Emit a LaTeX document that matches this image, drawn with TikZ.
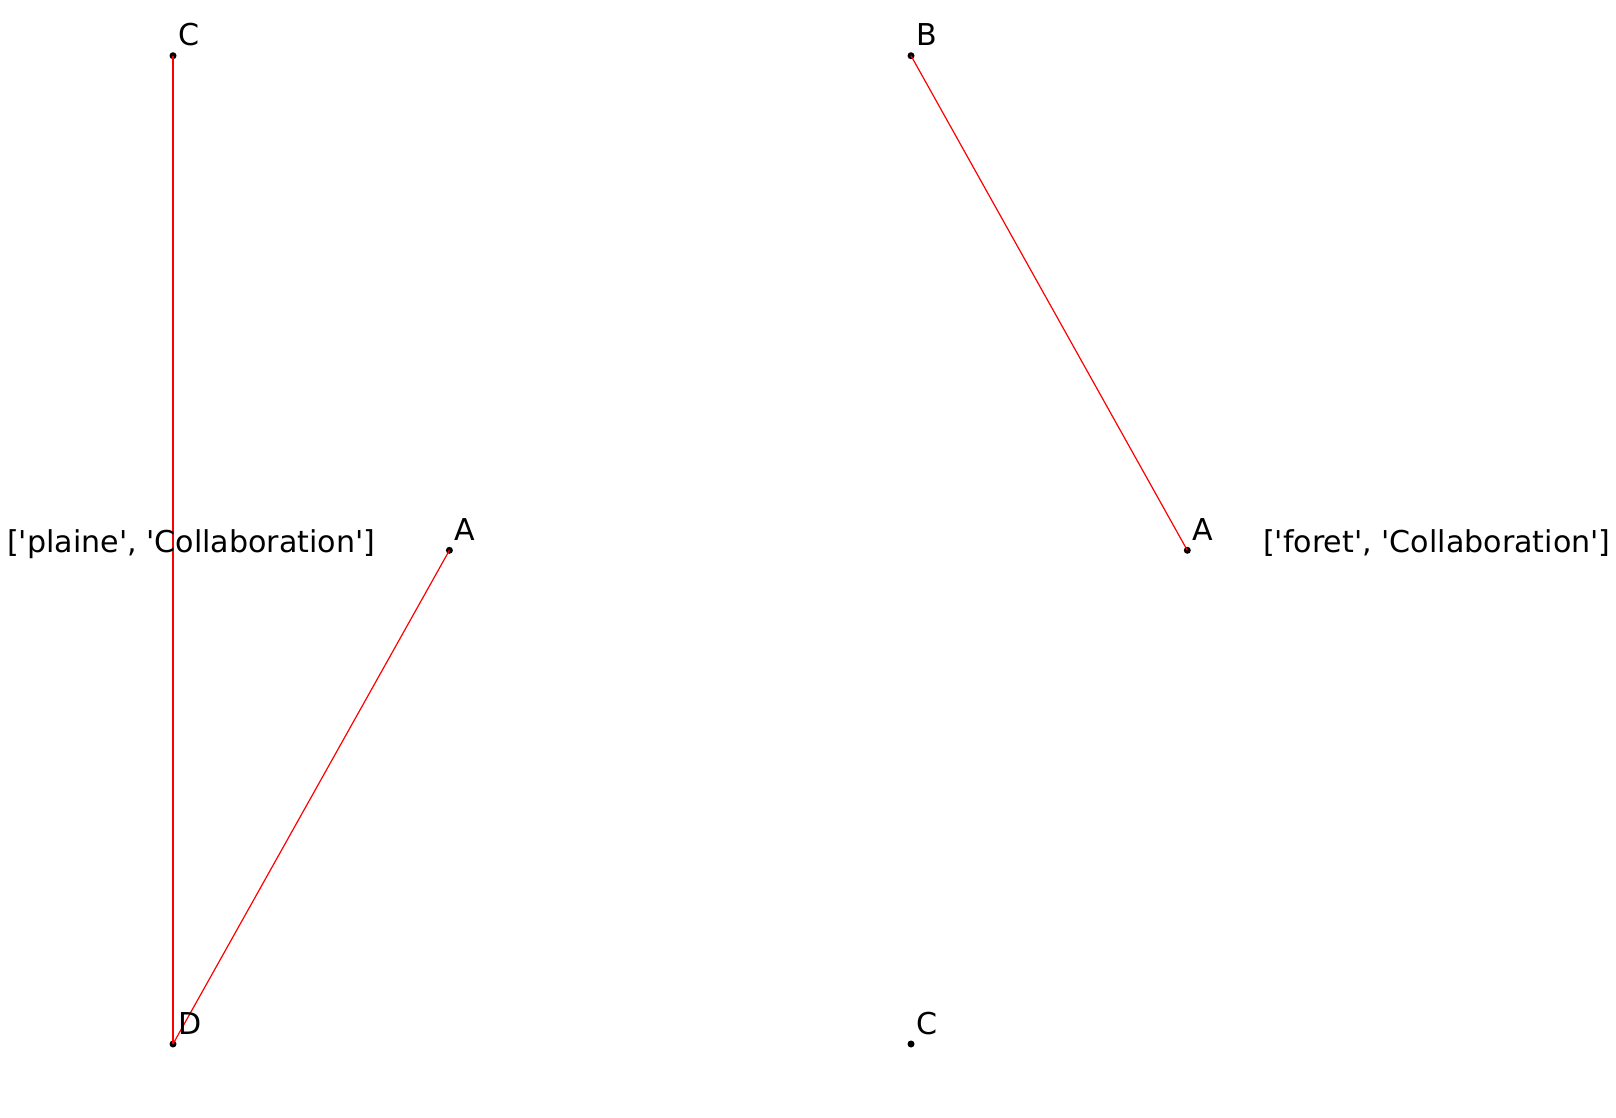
\documentclass[tikz,border=0pt]{standalone}
\usepackage{fontspec}
\setmainfont{DejaVu Sans}
\newcommand{\sq}{\textquotesingle}
\begin{document}
\begin{tikzpicture}[x=1pt,y=-1pt,
  pt/.style={circle,fill=black,inner sep=0pt,minimum size=7pt},
  lbl/.style={anchor=base west,inner sep=0pt,font=\fontsize{30.1}{35}\selectfont},
  edge/.style={red,line width=1.2pt}]
\useasboundingbox (0,0) rectangle (1616,1118);
% left graph
\node[pt] (lC) at (173,55.7) {};
\node[pt] (lD) at (173,1044) {};
\node[pt] (lA) at (449.4,550.3) {};
\draw[edge] (lC.center) -- (lD.center);
\draw[edge] (lD.center) -- (lA.center);
\node[lbl] (tlC) at (178,45.5) {C};
\node[lbl] (tlD) at (178,1034) {D};
\node[lbl] (tlA) at (454.4,540) {A};
\node[lbl] (titleL) at (7,552) {[\sq plaine\sq, \sq Collaboration\sq]};
% right graph
\node[pt] (rB) at (911,55.7) {};
\node[pt] (rA) at (1187.3,550.3) {};
\node[pt] (rC) at (911,1044) {};
\draw[edge] (rB.center) -- (rA.center);
\node[lbl] (trB) at (916,45.5) {B};
\node[lbl] (trA) at (1192.3,540) {A};
\node[lbl] (trC) at (916,1034) {C};
\node[lbl] (titleR) at (1263,552) {[\sq foret\sq, \sq Collaboration\sq]};
\end{tikzpicture}
\end{document}
